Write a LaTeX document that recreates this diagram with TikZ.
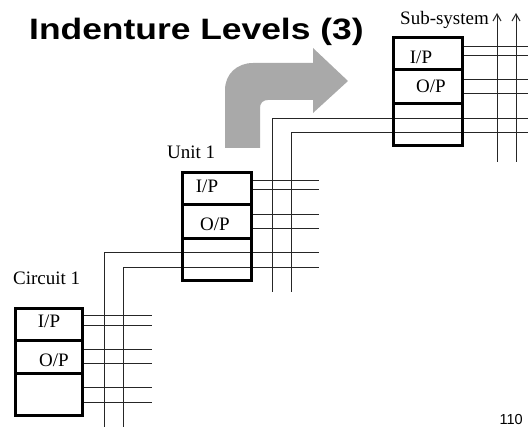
\documentclass[tikz,border=0pt]{standalone}
\usepackage{fontspec}
\setmainfont{Liberation Serif}
\newfontfamily\titlefont{Liberation Sans}
\usetikzlibrary{arrows.meta}
\definecolor{arrowgray}{HTML}{A9A9A9}
\begin{document}
\begin{tikzpicture}[x=1pt,y=-1pt,
  wire/.style={line width=1pt, draw=black!85},
  boxline/.style={line width=3pt, draw=black},
  lbl/.style={font=\fontsize{19}{19}\selectfont, inner sep=0pt},
  uparrow/.style={wire, -{Straight Barb[length=7pt,width=8pt,line width=1pt]}},
]
\useasboundingbox (0,0) rectangle (528,427);

% big gray bent arrow
\fill[arrowgray] (225,148) -- (225,90) .. controls (225,74) and (237,63) .. (253,63)
  -- (313,63) -- (313,48) -- (348,81) -- (313,113) -- (313,100) -- (268,100)
  .. controls (263,100) and (260,103) .. (260,108) -- (260,148) -- cycle;

% title
\node[anchor=base west, inner sep=0pt] (title) at (29,40)
  {\scalebox{1.2}[1]{\titlefont\bfseries\fontsize{29.5}{29.5}\selectfont Indenture Levels (3)}};

% ---- wires: circuit level
\foreach \y in {316,326,350,364,388,403} \draw[wire] (83,\y) -- (152,\y);
\coordinate (c1) at (104,253);
\coordinate (c2) at (123,268);
\draw[wire] (104,427) -- (c1) -- (319,253);
\draw[wire] (123,427) -- (c2) -- (319,268);

% ---- wires: unit level
\foreach \y in {181,190,215,229} \draw[wire] (251,\y) -- (319,\y);
\coordinate (u1) at (272,119);
\coordinate (u2) at (291,133);
\draw[wire] (272,292) -- (u1) -- (528,119);
\draw[wire] (291,292) -- (u2) -- (528,133);

% ---- wires: sub-system level
\foreach \y in {47,56,80,94} \draw[wire] (462,\y) -- (528,\y);
\coordinate (s1) at (497,13);
\coordinate (s2) at (516,13);
\draw[uparrow] (497,162) -- (s1);
\draw[uparrow] (516,162) -- (s2);

% ---- boxes
\draw[boxline] (15,308.5) rectangle (82.5,415.5);
\draw[boxline] (15,341) -- (82.5,341);
\draw[boxline] (15,374) -- (82.5,374);

\draw[boxline] (182,173) rectangle (251,281);
\draw[boxline] (182,205) -- (251,205);
\draw[boxline] (182,239) -- (251,239);

\draw[boxline] (393,38) rectangle (462,146);
\draw[boxline] (393,70) -- (462,70);
\draw[boxline] (393,104) -- (462,104);

% ---- labels
\node[lbl, anchor=base west] (lc) at (13,285) {Circuit 1};
\node[lbl, anchor=base west] (lu) at (167,159) {Unit 1};
\node[lbl, anchor=base west] (ls) at (400,25) {Sub-system};

\node[lbl] (cip) at (49,321) {I/P};
\node[lbl] (cop) at (54,360) {O/P};
\node[lbl] (uip) at (207,186) {I/P};
\node[lbl] (uop) at (215,224) {O/P};
\node[lbl] (sip) at (421,57) {I/P};
\node[lbl] (sop) at (431,86) {O/P};

\node[anchor=base east, inner sep=0pt, font=\titlefont\fontsize{14.5}{14.5}\selectfont] (pg) at (523,425) {110};
\end{tikzpicture}
\end{document}
